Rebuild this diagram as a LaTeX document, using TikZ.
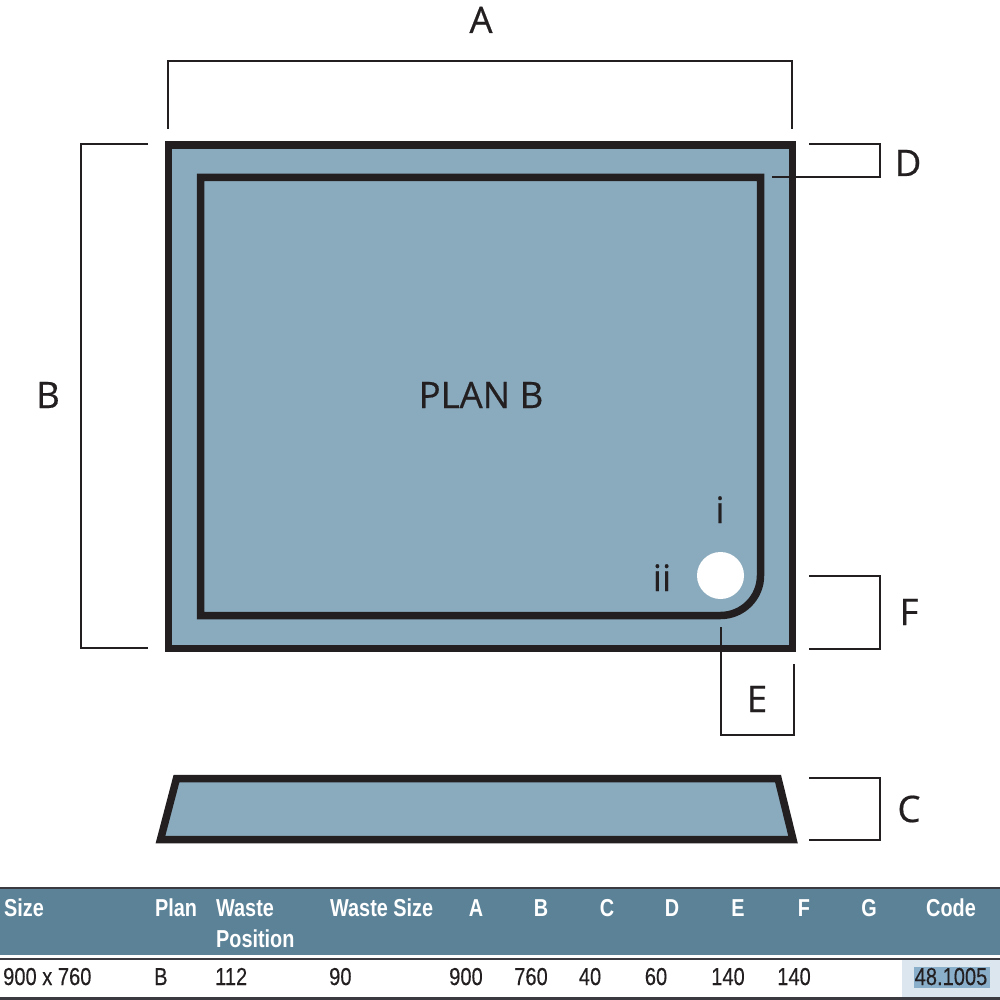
\documentclass[tikz,border=0pt]{standalone}
\usepackage{fontspec}
\setmainfont[FakeBold=0.5]{Open Sans}
\newfontfamily\tabfont[FakeStretch=0.81]{Liberation Sans}
\newfontfamily\tabcell[FakeStretch=0.82,FakeBold=0.25]{Liberation Sans}
\definecolor{ink}{HTML}{231F20}
\definecolor{tray}{HTML}{8AABBE}
\definecolor{head}{HTML}{5B8297}
\definecolor{rowline}{HTML}{3A3A40}
\definecolor{codecell}{HTML}{DCE6EE}
\definecolor{codesel}{HTML}{8AAFCB}
\tikzset{
  thick outline/.style={draw=ink,line width=7.5pt,miter limit=10},
  dim/.style={draw=ink,line width=2pt,line join=miter},
  lab/.style={text=ink,font=\fontsize{36.5}{36}\selectfont,inner sep=0pt,anchor=base},
  hd/.style={text=white,font=\tabfont\bfseries\fontsize{24.5}{24}\selectfont,inner sep=0pt,anchor=base},
  cell/.style={text=ink,font=\tabcell\fontsize{24.5}{24}\selectfont,inner sep=0pt,anchor=base}
}
\begin{document}
\begin{tikzpicture}[x=1pt,y=-1pt]
\useasboundingbox[fill=white] (0,0) rectangle (1000,1000);
% tray plan
\draw[thick outline,fill=tray] (168.5,145) rectangle (792.5,648.5);
\draw[thick outline] (200.5,177.5) -- (760.5,177.5) -- (760.5,575.5) arc[start angle=0,end angle=90,x radius=40pt,y radius=-40pt] -- (200.5,615.5) -- cycle;
\fill[white] (720.5,575.5) circle[radius=23.5pt];
% side view
\draw[thick outline,fill=tray] (176.5,778.5) -- (778,778.5) -- (793,839.5) -- (160.5,839.5) -- cycle;
% dimension brackets
\draw[dim] (168,129) -- (168,61) -- (792,61) -- (792,129);
\draw[dim] (148,144) -- (81,144) -- (81,648) -- (148,648);
\draw[dim] (809,144) -- (879.5,144) -- (879.5,177) -- (772,177);
\draw[dim] (809,576) -- (879.5,576) -- (879.5,648.5) -- (809,648.5);
\draw[dim] (720.5,627) -- (720.5,734.5) -- (793.5,734.5) -- (793.5,664);
\draw[dim] (809,778) -- (879.5,778) -- (879.5,840) -- (809,840);
% labels
\node[lab] (la) at (481,33) {A};
\node[lab] (lb) at (48,408) {B};
\node[lab] (lc) at (909,822) {C};
\node[lab] (ld) at (908,176) {D};
\node[lab] (le) at (757,712) {E};
\node[lab] (lf) at (909,625) {F};
\node[lab] (plan) at (481,408) {PLAN B};
\node[lab] (wi) at (720,523) {i};
\node[lab] (wii) at (662,591) {ii};
% table
\fill[head] (0,888) rectangle (1000,955);
\fill[rowline] (0,887) rectangle (1000,889);
\fill[rowline] (0,958) rectangle (1000,959.5);
\fill[rowline] (0,997) rectangle (1000,1000);
\fill[codecell] (902,959.5) rectangle (1000,997);
\fill[codesel] (914,967) rectangle (990,988);
\node[hd,anchor=base west] (h1) at (4,916) {Size};
\node[hd,anchor=base west] (h2) at (155,916) {Plan};
\node[hd,anchor=base west] (h3) at (216,916) {Waste};
\node[hd,anchor=base west] (h3b) at (216,947) {Position};
\node[hd,anchor=base west] (h4) at (330,916) {Waste Size};
\node[hd] (h5) at (476,916) {A};
\node[hd] (h6) at (541,916) {B};
\node[hd] (h7) at (607,916) {C};
\node[hd] (h8) at (672,916) {D};
\node[hd] (h9) at (738,916) {E};
\node[hd] (h10) at (804,916) {F};
\node[hd] (h11) at (869,916) {G};
\node[hd] (h12) at (951,916) {Code};
\node[cell,anchor=base west] (c1) at (3,985) {900 x 760};
\node[cell,anchor=base west] (c2) at (154,985) {B};
\node[cell,anchor=base west] (c3) at (215,985) {112};
\node[cell,anchor=base west] (c4) at (329,985) {90};
\node[cell] (c5) at (466,985) {900};
\node[cell] (c6) at (531,985) {760};
\node[cell] (c7) at (590,985) {40};
\node[cell] (c8) at (656,985) {60};
\node[cell] (c9) at (728,985) {140};
\node[cell] (c10) at (794,985) {140};
\node[cell] (c11) at (951,985) {48.1005};
\end{tikzpicture}
\end{document}
